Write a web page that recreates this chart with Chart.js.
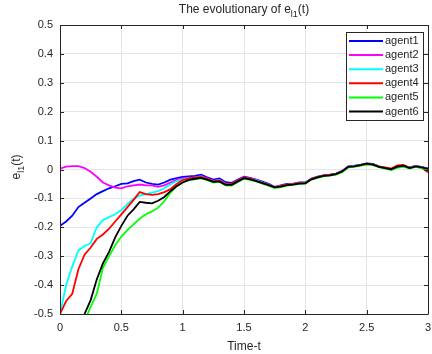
<!DOCTYPE html>
<html>
<head>
<meta charset="utf-8">
<script src="https://cdn.jsdelivr.net/npm/chart.js@4"></script>
<style>
  html, body { margin: 0; padding: 0; background: #fff; }
  .wrap { width: 432px; height: 354px; }
</style>
</head>
<body>
<div class="wrap"><canvas id="myChart" width="432" height="354"></canvas></div>
<script>
const time = [0, 0.05, 0.1, 0.15, 0.2, 0.25, 0.3, 0.35, 0.4, 0.45,
  0.5, 0.55, 0.6, 0.65, 0.7, 0.75, 0.8, 0.85, 0.9, 0.95,
  1, 1.05, 1.1, 1.15, 1.2, 1.25, 1.3, 1.35, 1.4, 1.45,
  1.5, 1.55, 1.6, 1.65, 1.7, 1.75, 1.8, 1.85, 1.9, 1.95,
  2, 2.05, 2.1, 2.15, 2.2, 2.25, 2.3, 2.35, 2.4, 2.45,
  2.5, 2.55, 2.6, 2.65, 2.7, 2.75, 2.8, 2.85, 2.9, 2.95, 3];

const agentNames = ["agent1", "agent2", "agent3", "agent4", "agent5", "agent6"];
const agentColors = ["#0000ff", "#ff00ff", "#00ffff", "#ff0000", "#00ff00", "#000000"];

const agent1 = [-0.195, -0.180, -0.160, -0.130, -0.115, -0.100, -0.085, -0.075, -0.065, -0.058,
  -0.050, -0.048, -0.040, -0.035, -0.045, -0.050, -0.052, -0.045, -0.035, -0.030,
  -0.026, -0.024, -0.022, -0.018, -0.027, -0.035, -0.031, -0.044, -0.046, -0.035,
  -0.025, -0.029, -0.035, -0.042, -0.050, -0.060, -0.055, -0.050, -0.050, -0.045,
  -0.045, -0.031, -0.025, -0.020, -0.018, -0.014, -0.005, 0.011, 0.013, 0.016,
  0.021, 0.019, 0.011, 0.006, 0.000, 0.009, 0.012, 0.007, 0.012, 0.008, 0.004];
const agent2 = [0.003, 0.010, 0.012, 0.012, 0.005, -0.008, -0.025, -0.045, -0.055, -0.063,
  -0.065, -0.058, -0.055, -0.052, -0.055, -0.055, -0.060, -0.055, -0.045, -0.035,
  -0.031, -0.028, -0.027, -0.023, -0.031, -0.039, -0.036, -0.049, -0.050, -0.037,
  -0.027, -0.031, -0.037, -0.045, -0.052, -0.061, -0.057, -0.052, -0.050, -0.047,
  -0.046, -0.032, -0.026, -0.021, -0.019, -0.016, -0.006, 0.010, 0.012, 0.016,
  0.020, 0.018, 0.010, 0.006, 0.001, 0.010, 0.013, 0.006, 0.012, 0.008, 0.002];
const agent3 = [-0.500, -0.400, -0.335, -0.280, -0.265, -0.255, -0.200, -0.175, -0.165, -0.155,
  -0.140, -0.120, -0.100, -0.090, -0.085, -0.080, -0.075, -0.065, -0.052, -0.040,
  -0.034, -0.030, -0.028, -0.025, -0.033, -0.040, -0.038, -0.050, -0.051, -0.039,
  -0.029, -0.033, -0.038, -0.045, -0.053, -0.061, -0.058, -0.053, -0.051, -0.048,
  -0.046, -0.033, -0.027, -0.021, -0.020, -0.016, -0.007, 0.009, 0.012, 0.015,
  0.019, 0.017, 0.009, 0.005, 0.001, 0.009, 0.013, 0.006, 0.011, 0.007, 0.001];
const agent4 = [-0.500, -0.455, -0.430, -0.345, -0.295, -0.270, -0.240, -0.225, -0.205, -0.180,
  -0.155, -0.130, -0.105, -0.078, -0.085, -0.088, -0.085, -0.078, -0.068, -0.050,
  -0.037, -0.031, -0.028, -0.026, -0.032, -0.040, -0.039, -0.051, -0.050, -0.038,
  -0.028, -0.032, -0.039, -0.046, -0.053, -0.061, -0.057, -0.052, -0.050, -0.047,
  -0.047, -0.032, -0.026, -0.020, -0.019, -0.015, -0.006, 0.008, 0.011, 0.015,
  0.019, 0.018, 0.010, 0.007, 0.003, 0.014, 0.016, 0.005, 0.010, 0.006, -0.010];
const agent5 = [null, null, null, null, -0.525, -0.475, -0.430, -0.340, -0.300, -0.262,
  -0.232, -0.210, -0.190, -0.170, -0.155, -0.145, -0.132, -0.110, -0.080, -0.058,
  -0.045, -0.037, -0.034, -0.031, -0.037, -0.045, -0.043, -0.055, -0.056, -0.043,
  -0.032, -0.036, -0.041, -0.049, -0.056, -0.064, -0.061, -0.056, -0.053, -0.050,
  -0.049, -0.035, -0.029, -0.023, -0.021, -0.018, -0.009, 0.007, 0.010, 0.013,
  0.018, 0.016, 0.008, 0.003, -0.002, 0.006, 0.010, 0.003, 0.009, 0.005, 0.000];
const agent6 = [null, null, null, null, -0.500, -0.452, -0.380, -0.325, -0.285, -0.235,
  -0.195, -0.160, -0.138, -0.112, -0.115, -0.117, -0.108, -0.095, -0.075, -0.058,
  -0.045, -0.036, -0.032, -0.029, -0.035, -0.043, -0.041, -0.053, -0.053, -0.041,
  -0.030, -0.034, -0.040, -0.047, -0.054, -0.062, -0.059, -0.054, -0.052, -0.049,
  -0.048, -0.034, -0.027, -0.022, -0.020, -0.016, -0.007, 0.009, 0.011, 0.015,
  0.020, 0.017, 0.009, 0.005, 0.001, 0.010, 0.013, 0.005, 0.011, 0.007, 0.002];

const agentValues = [agent1, agent2, agent3, agent4, agent5, agent6];

const FONT = "'Liberation Sans', Arial, sans-serif";
const AXIS_COLOR = "#262626";

// matlab style tick text: 1 instead of 1.0
const tickText = v => String(Number(v.toFixed(2)));

// text with a subscript part, drawn centered at (x, y)
function drawSub(ctx, parts, x, y, size) {
  ctx.save();
  let w = 0;
  parts.forEach(p => {
    ctx.font = (p.sub ? size * 0.75 : size) + "px " + FONT;
    w += ctx.measureText(p.t).width;
  });
  let cx = x - w / 2;
  ctx.textBaseline = "middle";
  ctx.textAlign = "left";
  ctx.fillStyle = AXIS_COLOR;
  parts.forEach(p => {
    ctx.font = (p.sub ? size * 0.75 : size) + "px " + FONT;
    ctx.fillText(p.t, cx, p.sub ? y + size * 0.35 : y);
    cx += ctx.measureText(p.t).width;
  });
  ctx.restore();
}

const matlabFrame = {
  id: "matlabFrame",
  afterDraw(chart) {
    const ctx = chart.ctx;
    const a = chart.chartArea;
    const xs = chart.scales.x, ys = chart.scales.y;
    ctx.save();
    ctx.strokeStyle = AXIS_COLOR;
    ctx.lineWidth = 1;
    ctx.beginPath();
    ctx.rect(Math.round(a.left) + 0.5, Math.round(a.top) + 0.5,
      Math.round(a.right - a.left), Math.round(a.bottom - a.top));
    ctx.stroke();
    // inward ticks on all four sides
    ctx.beginPath();
    xs.ticks.forEach(t => {
      const px = Math.round(xs.getPixelForValue(t.value)) + 0.5;
      ctx.moveTo(px, a.bottom); ctx.lineTo(px, a.bottom - 4);
      ctx.moveTo(px, a.top); ctx.lineTo(px, a.top + 4);
    });
    ys.ticks.forEach(t => {
      const py = Math.round(ys.getPixelForValue(t.value)) + 0.5;
      ctx.moveTo(a.left, py); ctx.lineTo(a.left + 4, py);
      ctx.moveTo(a.right, py); ctx.lineTo(a.right - 4, py);
    });
    ctx.stroke();

    // legend box
    const lx = 346, ly = 32, lw = 77, lh = 88;
    ctx.fillStyle = "#fff";
    ctx.fillRect(lx, ly, lw, lh);
    ctx.strokeStyle = AXIS_COLOR;
    ctx.strokeRect(lx + 0.5, ly + 0.5, lw, lh);
    ctx.font = "11px " + FONT;
    ctx.textBaseline = "middle";
    ctx.textAlign = "left";
    chart.data.datasets.forEach((ds, i) => {
      const ry = ly + 9 + i * 14.1;
      ctx.strokeStyle = ds.borderColor;
      ctx.lineWidth = 2;
      ctx.beginPath();
      ctx.moveTo(349, ry); ctx.lineTo(383, ry);
      ctx.stroke();
      ctx.fillStyle = AXIS_COLOR;
      ctx.fillText(ds.label, 385, ry);
    });

    // title and y label
    drawSub(ctx, [{t: "The evolutionary of e"}, {t: "l1", sub: true}, {t: "(t)"}],
      (a.left + a.right) / 2, 10, 12);
    ctx.save();
    ctx.translate(17, 167);
    ctx.rotate(-Math.PI / 2);
    drawSub(ctx, [{t: "e"}, {t: "l1", sub: true}, {t: "(t)"}], 0, 0, 12);
    ctx.restore();
    ctx.restore();
  }
};

new Chart(document.getElementById("myChart").getContext("2d"), {
  type: "line",
  data: {
    datasets: agentValues.map((vals, i) => ({
      label: agentNames[i],
      data: time.map((t, j) => ({x: t, y: vals[j]})),
      borderColor: agentColors[i],
      backgroundColor: agentColors[i],
      borderWidth: 1.8,
      pointRadius: 0,
      tension: 0,
      fill: false,
      clip: 0,
      order: agentValues.length - i
    }))
  },
  options: {
    responsive: false,
    animation: false,
    layout: {padding: {left: 0, top: 25, right: 4, bottom: 0}},
    plugins: {
      legend: {display: false},
      tooltip: {enabled: false}
    },
    scales: {
      x: {
        type: "linear",
        min: 0,
        max: 3,
        ticks: {stepSize: 0.5, padding: 7, color: AXIS_COLOR, font: {family: FONT, size: 11},
          callback: tickText},
        grid: {color: "#e5e5e5", drawTicks: false},
        border: {display: false},
        title: {display: true, text: "Time-t", color: AXIS_COLOR, font: {family: FONT, size: 12}, padding: {top: 0, bottom: 0}},
        afterFit(scale) {
          scale.height = 40;
          scale.paddingLeft = 0;
          scale.paddingRight = 0;
        }
      },
      y: {
        min: -0.5,
        max: 0.5,
        ticks: {stepSize: 0.1, padding: 7, color: AXIS_COLOR, font: {family: FONT, size: 11},
          callback: tickText},
        grid: {color: "#e5e5e5", drawTicks: false},
        border: {display: false},
        afterFit(scale) {
          scale.width = 60;
          scale.paddingTop = 0;
          scale.paddingBottom = 0;
        }
      }
    }
  },
  plugins: [matlabFrame]
});
</script>
</body>
</html>
